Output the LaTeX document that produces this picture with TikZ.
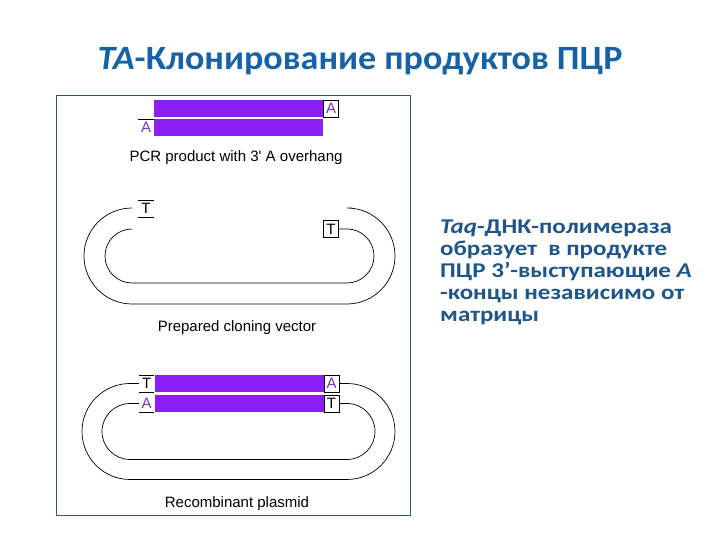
\documentclass[tikz,border=0pt]{standalone}
\usepackage{fontspec}
\setmainfont{Carlito}
\newfontfamily\helv{Liberation Sans}
\newfontfamily\widetitle[FakeStretch=1.06]{Carlito}
\newfontfamily\widenote[FakeStretch=1.19]{Carlito}
\usepackage{xcolor}
\definecolor{tatitle}{RGB}{22,98,166}
\definecolor{tatext}{RGB}{30,86,140}
\definecolor{taviolet}{RGB}{139,30,245}
\definecolor{taletter}{RGB}{112,52,204}
\definecolor{taframe}{RGB}{38,92,110}
\usetikzlibrary{positioning}

\begin{document}
\begin{tikzpicture}[x=1pt, y=1pt,
  strand/.style={fill=taviolet, draw=none, inner sep=0pt, minimum width=169pt, minimum height=17pt},
  base/.style={font=\helv\fontsize{15}{15}\selectfont, inner sep=0pt, minimum width=15pt, minimum height=17pt},
  boxed/.style={base, draw, line width=0.6pt},
  loop/.style={line width=0.7pt},
  caption/.style={font=\helv\fontsize{15}{15}\selectfont, anchor=base}]
  \useasboundingbox (0,0) rectangle (720,540);

  % Title
  \node[font=\widetitle\bfseries\fontsize{34}{34}\selectfont, text=tatitle, anchor=base] (title) at (360,470)
       {\textit{TA}-Клонирование продуктов ПЦР};

  % Frame
  \draw[taframe, line width=1pt] (56,444) rectangle (410,24);

  % PCR product
  \node[strand] (pcrtop) at (238.5,431.5) {};
  \node[strand] (pcrbot) at (238.5,412.5) {};
  \node[boxed, text=taletter, right=0pt of pcrtop] (pcrAr) {A};
  \node[base, text=taletter, left=0pt of pcrbot] (pcrAl) {A};
  \draw (pcrAl.north west) -- (pcrAl.north east);
  \node[caption] (cap1) at (236,378) {PCR product with 3' A overhang};

  % Prepared cloning vector
  \node[base] (vecTl) at (146,331.5) {T};
  \draw (vecTl.north west) -- (vecTl.north east) (vecTl.south west) -- (vecTl.south east);
  \node[boxed] (vecTr) at (331,311) {T};
  \draw[loop] (132,332) arc[start angle=90, end angle=270, radius=48]
       -- (347,236) arc[start angle=-90, end angle=90, radius=48] -- (352,332);
  \draw[loop] (132,311) arc[start angle=90, end angle=270, radius=27]
       -- (347,257) arc[start angle=-90, end angle=90, radius=27] -- (vecTr.east);
  \node[caption] (cap2) at (237,208) {Prepared cloning vector};

  % Recombinant plasmid
  \node[strand] (rectop) at (239,156.5) {};
  \node[strand] (recbot) at (239,136.5) {};
  \node[base, left=0pt of rectop] (recTl) {T};
  \node[base, text=taletter, left=0pt of recbot] (recAl) {A};
  \node[boxed, text=taletter, right=0pt of rectop] (recAr) {A};
  \node[boxed, right=0pt of recbot] (recTr) {T};
  \draw (recTl.north west) -- (recTl.north east) (recTl.south west) -- (recTl.south east);
  \draw (recAl.south west) -- (recAl.south east);
  \draw[loop] (recTl.west) -- (130,156.5) arc[start angle=90, end angle=270, radius=48]
       -- (347,60.5) arc[start angle=-90, end angle=90, radius=48] -- (recAr.east);
  \draw[loop] (recAl.west) -- (130,136.5) arc[start angle=90, end angle=270, radius=28]
       -- (347,80.5) arc[start angle=-90, end angle=90, radius=28] -- (recTr.east);
  \node[caption] (cap3) at (237,32) {Recombinant plasmid};

  % Note on the right
  \node[font=\widenote\bfseries\fontsize{21}{22}\selectfont, text=tatext, align=left, anchor=north west, inner sep=0pt]
       (taqnote) at (440,320)
       {\textit{Taq}-ДНК-полимераза\\образует~ в продукте\\ПЦР 3’-выступающие \textit{A}\\-концы независимо от\\матрицы};
\end{tikzpicture}
\end{document}
